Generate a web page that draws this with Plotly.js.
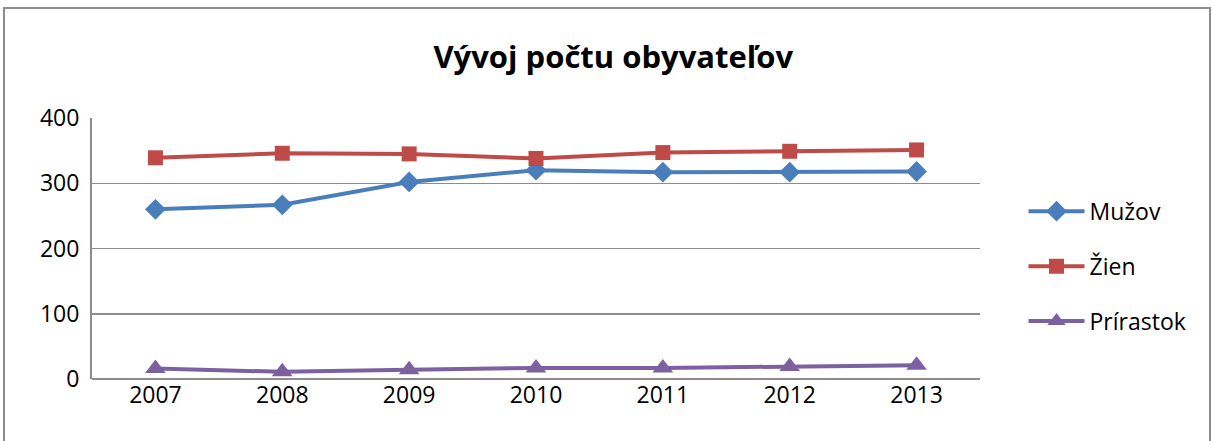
<!DOCTYPE html>
<html><head><meta charset="utf-8">
<script src="https://cdn.plot.ly/plotly-3.0.1.min.js"></script>
<style>
body{margin:0;background:#fff;}
#chart{width:1212px;height:441px;}
#frame{position:absolute;left:3px;top:7px;width:1204px;height:440px;border:2px solid #8c8c8c;pointer-events:none;}
</style></head>
<body>
<div id="chart"></div>
<div id="frame"></div>
<script>
const years = ['2007','2008','2009','2010','2011','2012','2013'];
const muzov = [260, 267, 302, 320, 317, 317, 318];
const zien = [339, 346, 345, 338, 347, 349, 351];
const prirastok = [16, 11, 14, 17, 17, 19, 21];

const font = '"Open Sans", sans-serif';
const traces = [
  {x: years, y: muzov, name: 'Mužov', legendgroup:'a', mode:'lines+markers',
   line:{color:'#4a7ebb', width:4}, marker:{symbol:'diamond', size:16, color:'#4a7ebb'}},
  {x: years, y: zien, name: 'Žien', legendgroup:'b', mode:'lines+markers',
   line:{color:'#be4b48', width:4}, marker:{symbol:'square', size:15, color:'#be4b48'}},
  {x: years, y: prirastok, name: 'Prírastok', legendgroup:'c', mode:'lines+markers',
   line:{color:'#7d60a0', width:4}, marker:{symbol:'triangle-up', size:18, color:'#7d60a0'}}
];
const layout = {
  width:1212, height:441,
  margin:{l:92, r:232, t:118, b:62},
  paper_bgcolor:'#fff', plot_bgcolor:'#fff',
  font:{family:font, size:23, color:'#000'},
  title:{text:'<b>Vývoj počtu obyvateľov</b>', font:{family:font, size:31, color:'#000'}, x:0.506, xanchor:'center', y:0.87, yanchor:'middle'},
  xaxis:{type:'category', range:[-0.5,6.5], showgrid:false, zeroline:false, showline:false, ticks:'', tickfont:{size:23}},
  yaxis:{range:[0,400], dtick:100, showgrid:true, gridcolor:'#8c8c8c', gridwidth:1.5, zeroline:true, zerolinecolor:'#8c8c8c', zerolinewidth:2,
    showline:true, linecolor:'#8c8c8c', linewidth:2, ticks:'', ticklabelstandoff:6, tickfont:{size:23}},
  showlegend:true,
  legend:{x:1.049, y:0.725, xanchor:'left', yanchor:'top', font:{size:23}, tracegroupgap:22, itemwidth:56},
};
Plotly.newPlot('chart', traces, layout, {displayModeBar:false, staticPlot:true});
</script>
</body></html>
